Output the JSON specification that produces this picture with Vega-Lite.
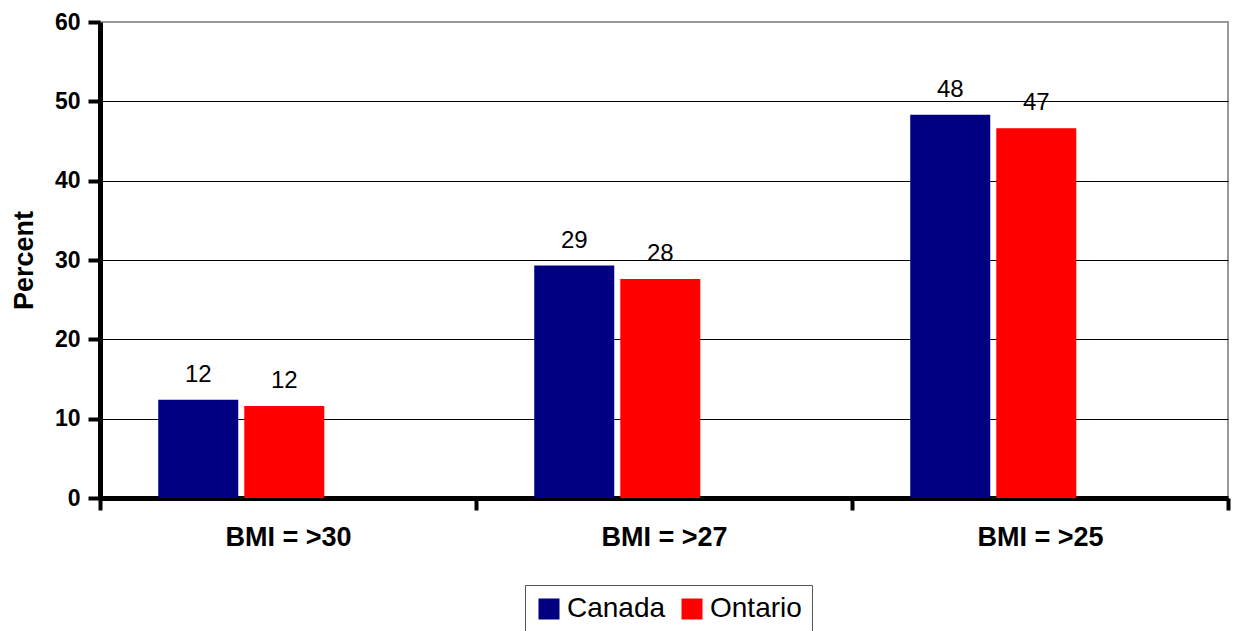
{
  "$schema": "https://vega.github.io/schema/vega-lite/v6.json",
  "autosize": "none",
  "width": 1128,
  "height": 476,
  "padding": {"left": 100, "top": 22, "right": 7, "bottom": 133},
  "background": "white",
  "config": {
    "font": "Liberation Sans",
    "view": {"stroke": "#999999", "strokeWidth": 2}
  },
  "data": {
    "values": [
      {"category": "BMI = >30", "region": "Canada", "value": 12.4},
      {"category": "BMI = >30", "region": "Ontario", "value": 11.6},
      {"category": "BMI = >27", "region": "Canada", "value": 29.3},
      {"category": "BMI = >27", "region": "Ontario", "value": 27.6},
      {"category": "BMI = >25", "region": "Canada", "value": 48.3},
      {"category": "BMI = >25", "region": "Ontario", "value": 46.6}
    ]
  },
  "encoding": {
    "x": {
      "field": "category",
      "type": "nominal",
      "sort": ["BMI = >30", "BMI = >27", "BMI = >25"],
      "scale": {"paddingInner": 0, "paddingOuter": 0},
      "axis": {
        "title": null,
        "labelAngle": 0,
        "labelFont": "Liberation Sans",
        "labelFontSize": 27,
        "labelFontWeight": "bold",
        "labelColor": "black",
        "labelPadding": 14,
        "domainColor": "black",
        "domainWidth": 5,
        "tickColor": "black",
        "tickWidth": 4,
        "tickSize": 12,
        "tickBand": "extent",
        "grid": false
      }
    },
    "xOffset": {
      "field": "region",
      "type": "nominal",
      "scale": {"domain": ["Canada", "Ontario", "spacer"], "paddingInner": 0.07, "paddingOuter": 0.72, "align": 0.47}
    },
    "y": {
      "field": "value",
      "type": "quantitative",
      "scale": {"domain": [0, 60], "nice": false},
      "axis": {
        "title": "Percent",
        "titleFont": "Liberation Sans",
        "titleFontSize": 27,
        "titleFontWeight": "bold",
        "titleColor": "black",
        "titlePadding": 16,
        "values": [0, 10, 20, 30, 40, 50, 60],
        "labelFont": "Liberation Sans",
        "labelFontSize": 23,
        "labelFontWeight": "bold",
        "labelColor": "black",
        "labelPadding": 8,
        "domainColor": "black",
        "domainWidth": 5,
        "tickColor": "black",
        "tickWidth": 4,
        "tickSize": 12,
        "grid": true,
        "gridColor": {"condition": {"test": "datum.value == 60", "value": "#999999"}, "value": "black"},
        "gridWidth": 1
      }
    }
  },
  "layer": [
    {
      "mark": {"type": "bar"},
      "encoding": {
        "color": {
          "field": "region",
          "type": "nominal",
          "scale": {"domain": ["Canada", "Ontario"], "range": ["#000080", "#FF0000"]},
          "legend": {
            "title": null,
            "orient": "none",
            "legendX": 425,
            "legendY": 563,
            "direction": "horizontal",
            "symbolType": "square",
            "symbolSize": 441,
            "symbolStrokeWidth": 0,
            "labelFont": "Liberation Sans",
            "labelFontSize": 28,
            "labelColor": "black",
            "columnPadding": 12,
            "strokeColor": "#555555",
            "fillColor": "white",
            "padding": 10
          }
        }
      }
    },
    {
      "mark": {
        "type": "text",
        "baseline": "alphabetic",
        "dy": -18,
        "font": "Liberation Sans",
        "fontSize": 24,
        "color": "black"
      },
      "encoding": {
        "text": {"field": "value", "type": "quantitative", "format": ".0f"}
      }
    }
  ]
}
